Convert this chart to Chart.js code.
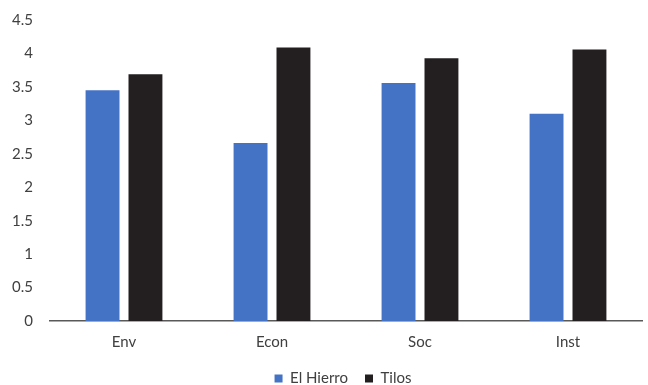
<!DOCTYPE html>
<html>
<head>
<meta charset="utf-8">
<script src="https://cdn.jsdelivr.net/npm/chart.js@4/dist/chart.umd.min.js"></script>
<style>
  html, body { margin: 0; padding: 0; background: #ffffff; }
  #wrap { width: 648px; height: 385px; position: relative; }
</style>
</head>
<body>
<div id="wrap"><canvas id="c" width="648" height="385"></canvas></div>
<script>
// Scores per dimension for each island
const categories = ['Env', 'Econ', 'Soc', 'Inst'];
const elHierro = [3.45, 2.66, 3.56, 3.10];
const tilos = [3.69, 4.09, 3.93, 4.06];
const yTicks = [0, 0.5, 1, 1.5, 2, 2.5, 3, 3.5, 4, 4.5];

const textColor = '#404040';
const fontFamily = 'Lato, "Open Sans", "Liberation Sans", sans-serif';

// Gives the legend a compact band in the layout, then widens its drawing box
// upward and nudges it under the plot centre, so the wide spacing between
// its items does not squeeze the plot
const legendBand = {
  id: 'legendBand',
  beforeLayout(chart) {
    const lg = chart.legend;
    if (lg && !lg._bandPatched) {
      const fit = lg.fit.bind(lg);
      lg.fit = function () { fit(); this.height = 22; };
      lg._bandPatched = true;
    }
  },
  afterLayout(chart) {
    const lg = chart.legend;
    if (!lg) return;
    lg.top -= 9;
    lg.height = lg.bottom - lg.top;
    lg.left += 22; lg.right += 22;
  }
};

new Chart(document.getElementById('c'), {
  type: 'bar',
  data: {
    labels: categories,
    datasets: [
      { label: 'El Hierro', data: elHierro, backgroundColor: '#4472C4',
        barPercentage: 0.79, categoryPercentage: 0.58 },
      { label: 'Tilos', data: tilos, backgroundColor: '#231F20',
        barPercentage: 0.79, categoryPercentage: 0.58 }
    ]
  },
  plugins: [legendBand],
  options: {
    responsive: false,
    animation: false,
    devicePixelRatio: 1,
    layout: { padding: { top: 20, right: 6, left: 0, bottom: 0 } },
    plugins: {
      tooltip: { enabled: false },
      legend: {
        position: 'bottom',
        labels: {
          color: textColor,
          font: { family: fontFamily, size: 15 },
          boxWidth: 8,
          boxHeight: 8,
          padding: 17
        }
      }
    },
    scales: {
      x: {
        grid: { display: false, drawTicks: false },
        border: { display: true, color: '#595959', width: 1.5 },
        ticks: { color: textColor, font: { family: fontFamily, size: 15 }, padding: 12 }
      },
      y: {
        min: 0,
        max: 4.5,
        afterBuildTicks: (scale) => { scale.ticks = yTicks.map(v => ({ value: v })); },
        afterFit: (scale) => { scale.width = 50; },
        // hidden tick marks keep the labels clear of the plot edge
        grid: { display: false, drawTicks: true, tickLength: 15 },
        border: { display: false },
        ticks: {
          color: textColor,
          font: { family: fontFamily, size: 15 },
          padding: 2,
          callback: (v) => String(v)
        }
      }
    }
  }
});
</script>
</body>
</html>
